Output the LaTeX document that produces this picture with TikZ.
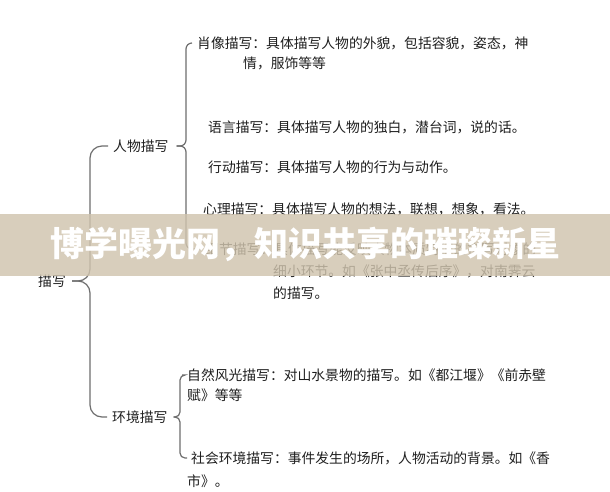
\documentclass[tikz,border=0pt]{standalone}
\usepackage{fontspec}
\setmainfont{Noto Sans CJK SC}
\usetikzlibrary{calc}
\definecolor{bracegray}{RGB}{110,110,110}
\definecolor{bandtan}{RGB}{208,196,174}
\tikzset{
  txt/.style={anchor=west,inner sep=0pt,text=black!88,font=\fontsize{13.8pt}{16pt}\selectfont},
  brace/.style={draw=bracegray,line width=1.2pt,rounded corners=#1},
  brace/.default=6pt,
}
\begin{document}
\begin{tikzpicture}[x=1pt,y=-1pt]
  \useasboundingbox[fill=white] (0,0) rectangle (610,491);
  % labels
  \node[txt] (miaoxie) at (38,281) {描写};
  \node[txt] (renwu) at (113,146) {人物描写};
  \node[txt] (huanjing) at (112,417) {环境描写};
  \node[txt] (xiaoxiang) at (197,43) {肖像描写：具体描写人物的外貌，包括容貌，姿态，神};
  \node[txt] (xiaoxiang2) at (243,63) {情，服饰等等};
  \node[txt] (yuyan) at (208,127) {语言描写：具体描写人物的独白，潜台词，说的话。};
  \node[txt] (xingdong) at (208,167) {行动描写：具体描写人物的行为与动作。};
  \node[txt] (xinli) at (203,209) {心理描写：具体描写人物的想法，联想，想象，看法。};
  \node[txt] (xijie) at (205,249) {细节描写：具体描写能反映人物本质特征的描写对象的};
  \node[txt] (xijie2) at (273,271) {细小环节。如《张中丞传后序》，对南霁云};
  \node[txt] (xijie3) at (273,293) {的描写。};
  \node[txt] (ziran) at (187,375) {自然风光描写：对山水景物的描写。如《都江堰》《前赤壁};
  \node[txt] (ziran2) at (187,395) {赋》等等};
  \node[txt] (shehui) at (191,458) {社会环境描写：事件发生的场所，人物活动的背景。如《香};
  \node[txt] (shehui2) at (187,481) {市》。};
  % braces
  \coordinate (vroot) at (90,0);
  \coordinate (vrenwu) at (186,0);
  \coordinate (vhuanjing) at (180,0);
  \draw[brace=12pt,shorten <=6pt,shorten >=5pt] (miaoxie.east) -| (vroot |- renwu.west) -- (renwu.west);
  \draw[brace=12pt,shorten <=6pt,shorten >=5pt] (miaoxie.east) -| (vroot |- huanjing.west) -- (huanjing.west);
  \draw[brace,shorten <=8pt,shorten >=5pt] (renwu.east) -| (vrenwu |- xiaoxiang.west) -- (xiaoxiang.west);
  \draw[brace,shorten <=8pt,shorten >=5pt] (renwu.east) -| (vrenwu |- xijie.west) -- (xijie.west);
  \draw[brace=5pt,shorten <=6pt,shorten >=5pt] (huanjing.east) -| (vhuanjing |- ziran.west) -- (ziran.west);
  \draw[brace=5pt,shorten <=6pt,shorten >=4pt] (huanjing.east) -| (vhuanjing |- shehui.west) -- (shehui.west);
  % banner
  \fill[bandtan,opacity=0.82] (0,214) rectangle (610,276);
  \node[inner sep=0pt,text=white,font=\fontsize{34pt}{36pt}\selectfont\bfseries] (banner) at (305,244) {博学曝光网，知识共享的璀璨新星};
\end{tikzpicture}
\end{document}
